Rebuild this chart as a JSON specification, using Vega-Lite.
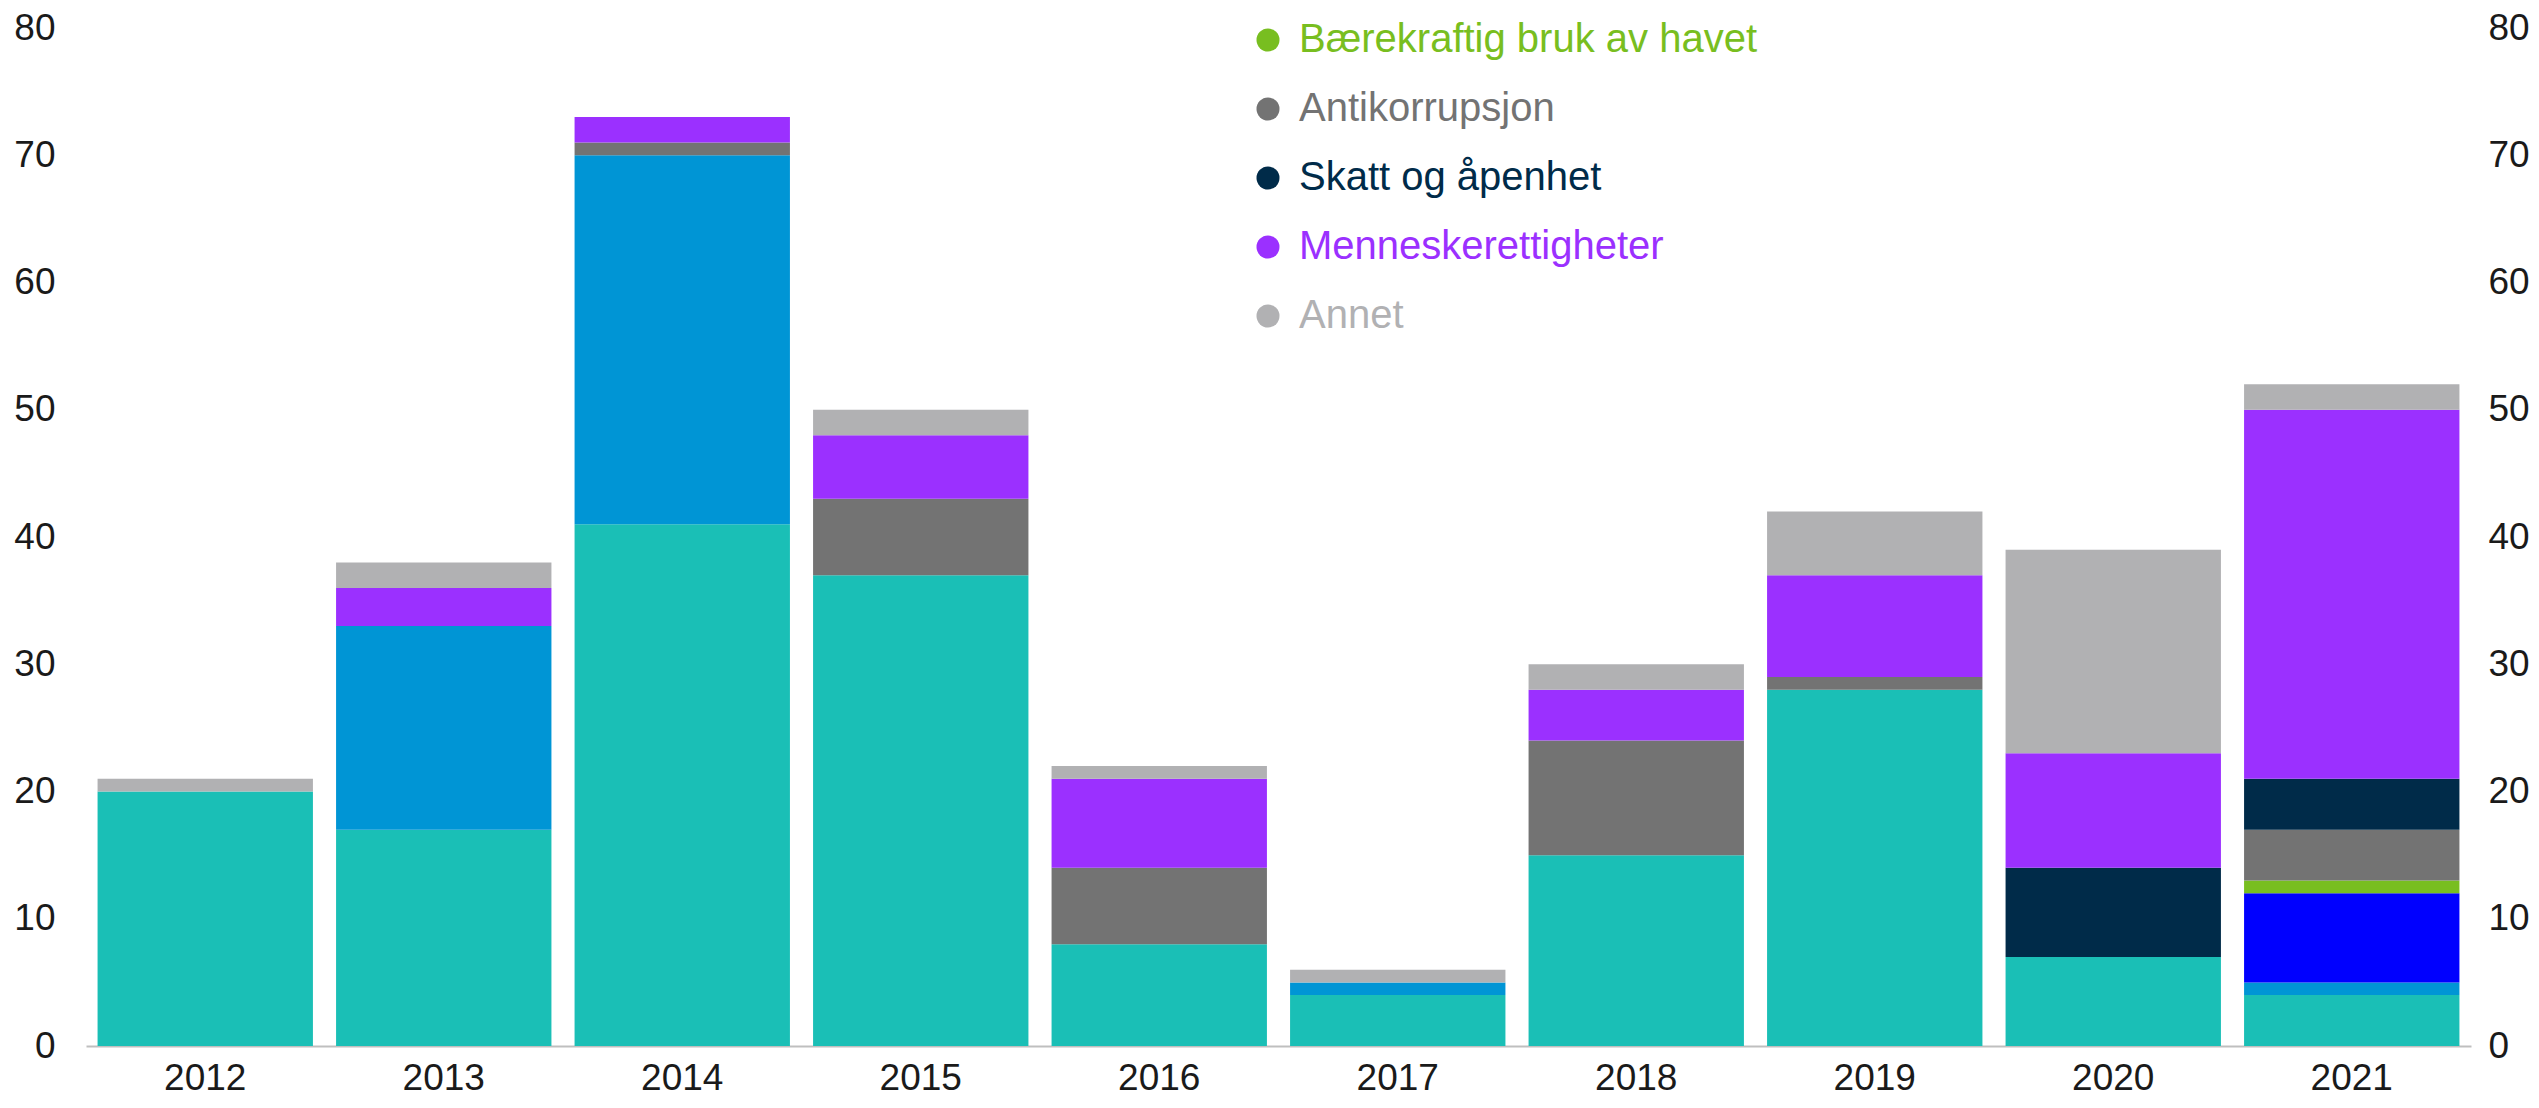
{
  "$schema": "https://vega.github.io/schema/vega-lite/v6.json",
  "autosize": "none",
  "width": 2385,
  "height": 1018,
  "padding": {"left": 86, "top": 28, "right": 68, "bottom": 62},
  "background": "white",
  "config": {
    "view": {"stroke": null},
    "font": "Liberation Sans",
    "axis": {"labelFont": "Liberation Sans", "labelFontSize": 37, "labelColor": "#1a1a1a", "ticks": false, "grid": false, "title": null},
    "legend": {"labelFont": "Liberation Sans"}
  },
  "data": {
    "values": [
      {"år": "2012", "kategori": "Klimaendringer", "antall": 20},
      {"år": "2012", "kategori": "Annet", "antall": 1},
      {"år": "2013", "kategori": "Klimaendringer", "antall": 17},
      {"år": "2013", "kategori": "Vannforvaltning", "antall": 16},
      {"år": "2013", "kategori": "Menneskerettigheter", "antall": 3},
      {"år": "2013", "kategori": "Annet", "antall": 2},
      {"år": "2014", "kategori": "Klimaendringer", "antall": 41},
      {"år": "2014", "kategori": "Vannforvaltning", "antall": 29},
      {"år": "2014", "kategori": "Antikorrupsjon", "antall": 1},
      {"år": "2014", "kategori": "Menneskerettigheter", "antall": 2},
      {"år": "2015", "kategori": "Klimaendringer", "antall": 37},
      {"år": "2015", "kategori": "Antikorrupsjon", "antall": 6},
      {"år": "2015", "kategori": "Menneskerettigheter", "antall": 5},
      {"år": "2015", "kategori": "Annet", "antall": 2},
      {"år": "2016", "kategori": "Klimaendringer", "antall": 8},
      {"år": "2016", "kategori": "Antikorrupsjon", "antall": 6},
      {"år": "2016", "kategori": "Menneskerettigheter", "antall": 7},
      {"år": "2016", "kategori": "Annet", "antall": 1},
      {"år": "2017", "kategori": "Klimaendringer", "antall": 4},
      {"år": "2017", "kategori": "Vannforvaltning", "antall": 1},
      {"år": "2017", "kategori": "Annet", "antall": 1},
      {"år": "2018", "kategori": "Klimaendringer", "antall": 15},
      {"år": "2018", "kategori": "Antikorrupsjon", "antall": 9},
      {"år": "2018", "kategori": "Menneskerettigheter", "antall": 4},
      {"år": "2018", "kategori": "Annet", "antall": 2},
      {"år": "2019", "kategori": "Klimaendringer", "antall": 28},
      {"år": "2019", "kategori": "Antikorrupsjon", "antall": 1},
      {"år": "2019", "kategori": "Menneskerettigheter", "antall": 8},
      {"år": "2019", "kategori": "Annet", "antall": 5},
      {"år": "2020", "kategori": "Klimaendringer", "antall": 7},
      {"år": "2020", "kategori": "Skatt og åpenhet", "antall": 7},
      {"år": "2020", "kategori": "Menneskerettigheter", "antall": 9},
      {"år": "2020", "kategori": "Annet", "antall": 16},
      {"år": "2021", "kategori": "Klimaendringer", "antall": 4},
      {"år": "2021", "kategori": "Vannforvaltning", "antall": 1},
      {"år": "2021", "kategori": "Barns rettigheter", "antall": 7},
      {"år": "2021", "kategori": "Bærekraftig bruk av havet", "antall": 1},
      {"år": "2021", "kategori": "Antikorrupsjon", "antall": 4},
      {"år": "2021", "kategori": "Skatt og åpenhet", "antall": 4},
      {"år": "2021", "kategori": "Menneskerettigheter", "antall": 29},
      {"år": "2021", "kategori": "Annet", "antall": 2}
    ]
  },
  "transform": [
    {"calculate": "indexof(['Klimaendringer','Vannforvaltning','Barns rettigheter','Bærekraftig bruk av havet','Antikorrupsjon','Skatt og åpenhet','Menneskerettigheter','Annet'], datum.kategori)", "as": "rekkefølge"}
  ],
  "encoding": {
    "x": {
      "field": "år", "type": "nominal",
      "scale": {"paddingInner": 0.097, "paddingOuter": 0.0485},
      "axis": {"labelAngle": 0, "labelPadding": 14, "domainColor": "#bfbfbf", "domainWidth": 2}
    },
    "y": {"field": "antall", "type": "quantitative", "aggregate": "sum", "stack": "zero", "scale": {"domain": [0, 80], "nice": false}},
    "order": {"field": "rekkefølge", "type": "quantitative"},
    "color": {
      "field": "kategori", "type": "nominal",
      "scale": {
        "domain": ["Klimaendringer", "Vannforvaltning", "Barns rettigheter", "Bærekraftig bruk av havet", "Antikorrupsjon", "Skatt og åpenhet", "Menneskerettigheter", "Annet"],
        "range": ["#1ABFB6", "#0095D5", "#0000FF", "#78BE20", "#737373", "#002B49", "#9B30FF", "#B1B1B3"]
      },
      "legend": {
        "values": ["Bærekraftig bruk av havet", "Antikorrupsjon", "Skatt og åpenhet", "Menneskerettigheter", "Annet"],
        "title": null,
        "orient": "none",
        "legendX": 1162,
        "legendY": -8,
        "symbolType": "circle",
        "symbolSize": 529,
        "symbolStrokeWidth": 0,
        "labelFontSize": 40,
        "labelOffset": 11,
        "rowPadding": 29,
        "labelLimit": 1000,
        "encode": {"labels": {"update": {"fill": {"scale": "color", "field": "value"}}}}
      }
    }
  },
  "layer": [
    {
      "mark": {"type": "bar"},
      "encoding": {"y": {"field": "antall", "type": "quantitative", "aggregate": "sum", "axis": {"orient": "left", "values": [0,10,20,30,40,50,60,70,80], "domain": false, "labelPadding": 31}}}
    },
    {
      "mark": {"type": "bar", "opacity": 0},
      "encoding": {"y": {"field": "antall", "type": "quantitative", "aggregate": "sum", "axis": {"orient": "right", "values": [0,10,20,30,40,50,60,70,80], "domain": false, "labelPadding": 17}}}
    }
  ],
  "resolve": {"axis": {"y": "independent"}}
}
